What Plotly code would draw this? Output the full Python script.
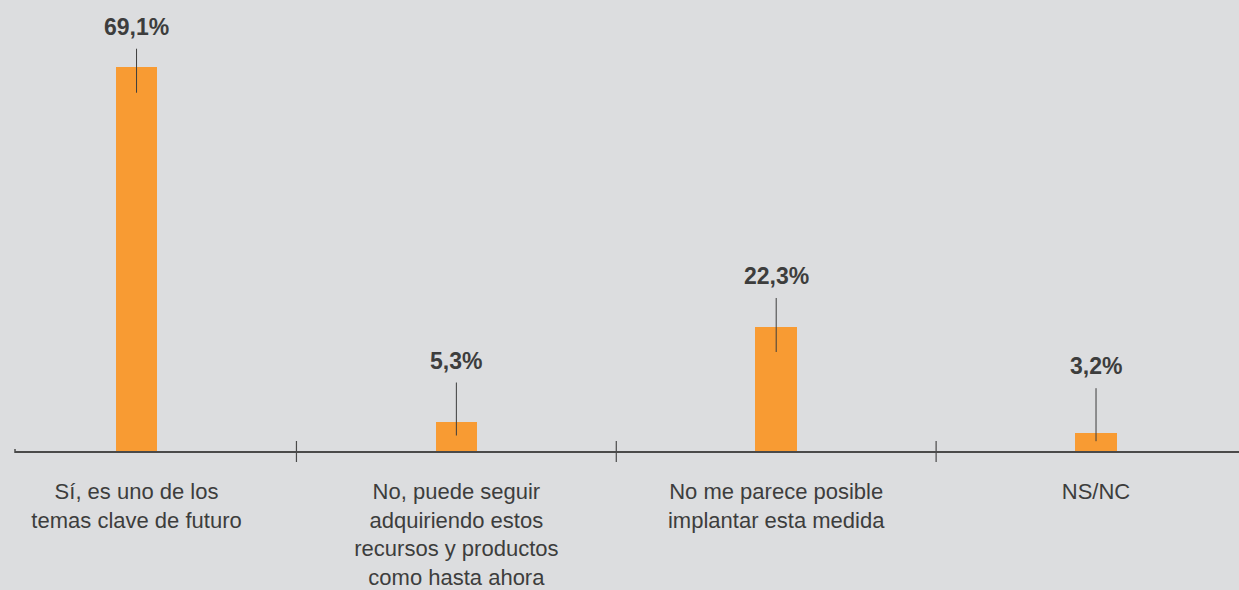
import plotly.graph_objects as go

categories = [
    "Sí, es uno de los<br>temas clave de futuro",
    "No, puede seguir<br>adquiriendo estos<br>recursos y productos<br>como hasta ahora",
    "No me parece posible<br>implantar esta medida",
    "NS/NC",
]
values = [69.1, 5.3, 22.3, 3.2]
value_labels = ["69,1%", "5,3%", "22,3%", "3,2%"]

# style: label offset above bar top (px) and leader length (px)
label_offsets = [40, 61, 51, 67]
leader_lengths = [44, 53, 54, 53]

BG = "#dcdddf"
BAR = "#f89b33"
TXT = "#3d3d3d"
AXIS = "#4a4a4a"
FONT = "Liberation Sans, Arial, sans-serif"

xs = list(range(len(values)))
X_RANGE = [-0.38, 3.447]

fig = go.Figure()
fig.add_trace(go.Bar(
    x=xs, y=values, width=0.13,
    marker=dict(color=BAR, line=dict(width=0)),
    hoverinfo="skip",
))

for x, v, lab, off, ln in zip(xs, values, value_labels, label_offsets, leader_lengths):
    fig.add_annotation(
        x=x, y=v, xref="x", yref="y", text=f"<b>{lab}</b>",
        showarrow=False, yshift=off, yanchor="middle",
        font=dict(family=FONT, size=23, color=TXT),
    )
    top = off - 22
    fig.add_shape(
        type="line", xref="x", yref="y", ysizemode="pixel", yanchor=v,
        x0=x, x1=x, y0=top - ln, y1=top,
        line=dict(color=TXT, width=1),
    )

# category dividers crossing the axis (paper refs so they are not clipped)
def to_paper(d):
    return (d - X_RANGE[0]) / (X_RANGE[1] - X_RANGE[0])

for d in [0.5, 1.5, 2.5]:
    fig.add_shape(
        type="line", xref="paper", yref="paper", ysizemode="pixel", yanchor=0,
        x0=to_paper(d), x1=to_paper(d), y0=-11, y1=10,
        line=dict(color=AXIS, width=1.2),
    )
fig.add_shape(
    type="line", xref="paper", yref="paper", ysizemode="pixel", yanchor=0,
    x0=0, x1=0, y0=-2, y1=2, line=dict(color=AXIS, width=1.5),
)

fig.update_layout(
    width=1239, height=590,
    paper_bgcolor=BG, plot_bgcolor=BG,
    margin=dict(l=15, r=0, t=10, b=135),
    showlegend=False,
    bargap=0,
    font=dict(family=FONT, color=TXT),
)
fig.update_xaxes(
    range=X_RANGE,
    tickvals=xs, ticktext=categories,
    showline=True, linecolor=AXIS, linewidth=1.6,
    showgrid=False, zeroline=False, ticks="",
    ticklabelstandoff=20,
    tickfont=dict(size=22, color=TXT, family=FONT),
)
fig.update_yaxes(
    range=[0, 79.3], visible=False, showgrid=False, zeroline=False,
)

fig.write_html(
    "out.html",
    config={"displayModeBar": False},
    post_script="document.body.style.margin='0';document.body.style.overflow='hidden';",
)
